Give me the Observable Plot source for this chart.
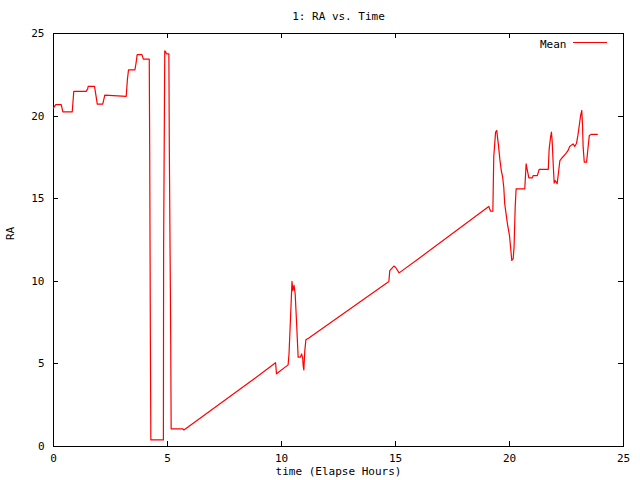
<!DOCTYPE html>
<html>
<head>
<meta charset="utf-8">
<script src="https://cdn.jsdelivr.net/npm/d3@7"></script>
<script src="https://cdn.jsdelivr.net/npm/@observablehq/plot@0.6"></script>
<style>
  body { margin: 0; background: #fff; }
</style>
</head>
<body>
<div id="chart"></div>
<script>
const titleText = "1: RA vs. Time";
const xLabel = "time (Elapse Hours)";
const yLabel = "RA";
const seriesName = "Mean";
const xTicks = [0, 5, 10, 15, 20, 25];
const yTicks = [0, 5, 10, 15, 20, 25];

const hours = [
  0, 0.1, 0.34, 0.41, 0.82, 0.89, 1.43, 1.5, 1.52, 1.8, 1.92, 2.16, 2.25, 3.19, 3.24, 3.29, 3.57, 3.62, 3.67, 3.88, 3.94, 4.2,
  4.22, 4.25, 4.27, 4.82, 4.83, 4.88, 4.92, 4.95, 5.06, 5.08, 5.14, 5.16, 5.66, 5.72,
  8.64, 9.74, 9.78, 10.29, 10.33, 10.41, 10.46, 10.5, 10.55, 10.6, 10.66, 10.73, 10.83, 10.88, 10.93, 10.95, 10.98, 11.02, 11.07, 11.2,
  14.71, 14.75, 14.93, 15.0, 15.16, 16.1, 19.09, 19.17, 19.27, 19.31, 19.39, 19.44, 19.47, 19.51, 19.58, 19.64, 19.7, 19.75, 19.79,
  19.86, 19.92, 20.0, 20.04, 20.1, 20.16, 20.2, 20.25, 20.29, 20.67, 20.73, 20.77, 20.85, 21.0, 21.04, 21.22, 21.3, 21.7, 21.74,
  21.8, 21.84, 21.87, 21.92, 21.96, 22.0, 22.05, 22.09, 22.15, 22.21, 22.31, 22.46, 22.57, 22.64, 22.79, 22.86, 22.94, 23.0, 23.06,
  23.12, 23.17, 23.2, 23.23, 23.28, 23.38, 23.44, 23.5, 23.58, 23.85
];
const raMean = [
  20.5, 20.7, 20.7, 20.25, 20.25, 21.5, 21.5, 21.65, 21.8, 21.8, 20.72, 20.72, 21.27, 21.2, 22.2, 22.8, 22.8, 23.2, 23.72, 23.72, 23.45, 23.45,
  17.7, 6.2, 0.4, 0.4, 12.2, 23.95, 23.9, 23.77, 23.77, 18.1, 6.7, 1.07, 1.07, 1.0,
  3.93, 5.07, 4.4, 4.94, 5.61, 8.27, 9.99, 9.44, 9.75, 9.24, 7.53, 5.41, 5.41, 5.6, 5.35, 4.9, 4.64, 5.77, 6.46, 6.57,
  9.99, 10.65, 10.92, 10.85, 10.51, 11.46, 14.53, 14.24, 14.24, 17.55, 19.03, 19.13, 18.77, 18.3, 17.35, 16.7, 16.3, 15.66, 14.69,
  13.98, 13.38, 12.77, 12.17, 11.26, 11.36, 12.07, 14.49, 15.6, 15.6, 17.11, 16.81, 16.26, 16.26, 16.4, 16.4, 16.77, 16.77, 18.02,
  18.72, 19.03, 18.52, 17.0, 15.94, 16.1, 16.0, 15.9, 16.6, 17.31, 17.48, 17.71, 17.92, 18.16, 18.32, 18.16, 18.36, 18.83, 19.43,
  20.04, 20.34, 19.53, 18.12, 17.21, 17.21, 18.02, 18.83, 18.89, 18.89
];

const data = hours.map((t, i) => ({t, v: raMean[i]}));
const red = "#ff0000";
const TICK = 5;

// inward ticks on all four sides, placed through Plot's scales
const innerTicks = (index, scales, values, dims) => {
  const g = d3.create("svg:g").attr("stroke", "#000").attr("stroke-width", 1).attr("shape-rendering", "crispEdges");
  const top = dims.marginTop, bottom = dims.height - dims.marginBottom;
  const left = dims.marginLeft, right = dims.width - dims.marginRight;
  for (const t of xTicks) {
    const x = Math.round(scales.x(t)) + 0.5;
    g.append("line").attr("x1", x).attr("x2", x).attr("y1", bottom).attr("y2", bottom - TICK);
    g.append("line").attr("x1", x).attr("x2", x).attr("y1", top).attr("y2", top + TICK);
  }
  for (const t of yTicks) {
    const y = Math.round(scales.y(t)) + 0.5;
    g.append("line").attr("y1", y).attr("y2", y).attr("x1", left).attr("x2", left + TICK);
    g.append("line").attr("y1", y).attr("y2", y).attr("x1", right).attr("x2", right - TICK);
  }
  return g.node();
};

const legendLine = (index, scales, values, dims) => {
  const right = dims.width - dims.marginRight;
  return d3.create("svg:line")
    .attr("x1", right - 50).attr("x2", right - 16)
    .attr("y1", dims.marginTop + 9.5).attr("y2", dims.marginTop + 9.5)
    .attr("stroke", red).attr("stroke-width", 1.2)
    .node();
};

const chart = Plot.plot({
  width: 640,
  height: 480,
  marginLeft: 53,
  marginRight: 17,
  marginTop: 33,
  marginBottom: 34,
  style: {fontFamily: "'DejaVu Sans Mono', monospace", fontSize: "11px", background: "#fff", color: "#000"},
  x: {domain: [0, 25]},
  y: {domain: [0, 25]},
  marks: [
    Plot.axisX({ticks: xTicks, tickSize: 0, tickPadding: 8, label: null}),
    Plot.axisY({ticks: yTicks, tickSize: 0, tickPadding: 9, label: null}),
    Plot.frame({stroke: "#000"}),
    innerTicks,
    Plot.line(data, {x: "t", y: "v", stroke: red, strokeWidth: 1.2}),
    Plot.text([titleText], {frameAnchor: "top", dy: -21}),
    Plot.text([xLabel], {frameAnchor: "bottom", dy: 28}),
    Plot.text([yLabel], {frameAnchor: "left", dx: -43, rotate: -90}),
    Plot.text([seriesName], {frameAnchor: "top-right", dx: -57, dy: 7, textAnchor: "end"}),
    legendLine
  ]
});
document.getElementById("chart").append(chart);
</script>
</body>
</html>
